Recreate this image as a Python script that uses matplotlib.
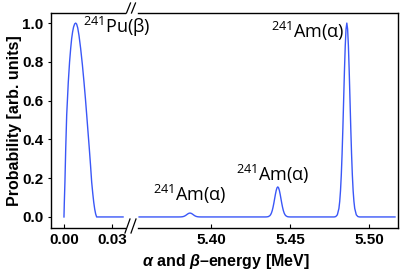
import numpy as np
import matplotlib
matplotlib.use("Agg")
import matplotlib.pyplot as plt
from matplotlib.lines import Line2D

# ---------------- data ----------------
# 241Pu beta spectrum (left panel), energy in MeV
pu_energy = [0.0, 0.0002, 0.0006, 0.0011, 0.0017, 0.0027, 0.0035, 0.0042, 0.0048,
             0.0054, 0.0060, 0.0067, 0.0073, 0.0079, 0.0086, 0.0094, 0.0104,
             0.0115, 0.0125, 0.0134, 0.0142, 0.0150, 0.0158, 0.0166, 0.0173,
             0.0180, 0.0186, 0.0192, 0.0198, 0.0204, 0.0369]
pu_prob = [0.0, 0.07, 0.18, 0.355, 0.526, 0.696, 0.80, 0.87, 0.92,
           0.955, 0.98, 0.996, 1.0, 0.995, 0.975, 0.935, 0.87,
           0.785, 0.696, 0.61, 0.526, 0.44, 0.355, 0.265, 0.18,
           0.12, 0.075, 0.04, 0.015, 0.0, 0.0]

# 241Am alpha lines (right panel)
am_centers = [5.3867, 5.4423, 5.4860]
am_heights = [0.02, 0.155, 1.0]
# common line shape of the alpha peaks: offset from centre [MeV] and relative height
shape_offset = [-0.0080, -0.0070, -0.0060, -0.0050, -0.0045, -0.0040, -0.0035, -0.0030,
                -0.0025, -0.0020, -0.0015, -0.0010, -0.0005, 0.0,
                0.0005, 0.0010, 0.0015, 0.0020, 0.0025, 0.0030, 0.0035, 0.0040,
                0.0045, 0.0050, 0.0060, 0.0070, 0.0080]
shape_rel = [0.0, 0.002, 0.011, 0.044, 0.08, 0.135, 0.216, 0.325,
             0.458, 0.607, 0.755, 0.882, 0.969, 1.0,
             0.969, 0.882, 0.755, 0.607, 0.458, 0.325, 0.216, 0.135,
             0.08, 0.044, 0.011, 0.002, 0.0]
am_range = [5.3545, 5.5165]

left_ticks = [0.00, 0.03]
left_ticklabels = ["0.00", "0.03"]
right_ticks = [5.40, 5.45, 5.50]
right_ticklabels = ["5.40", "5.45", "5.50"]
y_ticks = [0.0, 0.2, 0.4, 0.6, 0.8, 1.0]
y_ticklabels = ["0.0", "0.2", "0.4", "0.6", "0.8", "1.0"]

labels = [r"$^{\mathregular{241}}$Pu(β)", r"$^{\mathregular{241}}$Am(α)",
          r"$^{\mathregular{241}}$Am(α)", r"$^{\mathregular{241}}$Am(α)"]

# ---------------- build right-panel series ----------------
am_energy = [am_range[0]]
am_prob = [0.0]
for c, h in zip(am_centers, am_heights):
    for o, r in zip(shape_offset, shape_rel):
        am_energy.append(c + o)
        am_prob.append(h * r)
am_energy.append(am_range[1])
am_prob.append(0.0)

# ---------------- figure ----------------
plt.rcParams["mathtext.fontset"] = "custom"
plt.rcParams["mathtext.bfit"] = "Liberation Sans:italic:bold"

W, H = 407, 276
fig = plt.figure(figsize=(W / 100, H / 100), dpi=100)

ax_top_px, ax_bot_px = 13, 228
L0, L1 = 51, 124.5
R0, R1 = 138, 398
axL = fig.add_axes([L0 / W, 1 - ax_bot_px / H, (L1 - L0) / W, (ax_bot_px - ax_top_px) / H])
axR = fig.add_axes([R0 / W, 1 - ax_bot_px / H, (R1 - R0) / W, (ax_bot_px - ax_top_px) / H])
axR.patch.set_visible(False)
axL.set_zorder(3)
axL.patch.set_visible(False)

line_color = "#3a57f7"
axL.plot(pu_energy, pu_prob, color=line_color, lw=1.0)
axR.plot(am_energy, am_prob, color=line_color, lw=1.0)

ylim = (-0.057, 1.052)
axL.set_xlim(-0.0081, 0.0378)
axR.set_xlim(5.3538, 5.5184)
axL.set_ylim(*ylim)
axR.set_ylim(*ylim)

tick_font = dict(family="Liberation Sans", weight="bold", size=11)
axL.set_xticks(left_ticks)
axL.set_xticklabels(left_ticklabels, fontdict=tick_font)
axR.set_xticks(right_ticks)
axR.set_xticklabels(right_ticklabels, fontdict=tick_font)
axL.set_yticks(y_ticks)
axL.set_yticklabels(y_ticklabels, fontdict=tick_font)
axR.set_yticks([])

for ax in (axL, axR):
    ax.tick_params(axis="x", direction="in", length=3, width=0.8, pad=3.5)
    for s in ax.spines.values():
        s.set_linewidth(1.0)
axL.tick_params(axis="y", direction="out", length=2.5, width=0.8, pad=3.0)
axL.spines["right"].set_visible(False)
axR.spines["left"].set_visible(False)

# break marks "//"
def slash(ax, x0px, y0px, x1px, y1px, ref_x, ref_y):
    w = (L1 - L0)
    h = (ax_bot_px - ax_top_px)
    xs = [ref_x + x0px / w, ref_x + x1px / w]
    ys = [ref_y + y0px / h, ref_y + y1px / h]
    ax.add_line(Line2D(xs, ys, transform=ax.transAxes, color="black",
                       lw=0.9, clip_on=False))

for dx in (2.0, 7.0):
    slash(axL, dx, 0, dx + 4, 10, 1.0, 1.0)
for dx in (0.5, 6.5):
    slash(axL, dx, -5, dx + 5, 9, 1.0, 0.0)

# labels
axL.set_ylabel("Probability [arb. units]", fontsize=11.5, fontweight="bold",
               family="Liberation Sans")
axL.yaxis.set_label_coords(-0.395, 0.5)
fig.text(226 / W, 1 - 266 / H, r"$\mathbfit{\alpha}$ and $\mathbfit{\beta}$–energy [MeV]",
         ha="center", va="baseline", fontsize=11.5, fontweight="bold",
         family="Liberation Sans")

ann_font = dict(family="Open Sans", size=13)
axL.text(0.0119, 0.948, labels[0], ha="left", va="baseline", clip_on=False, **ann_font)
axR.text(5.3633, 0.084, labels[1], ha="left", va="baseline", **ann_font)
axR.text(5.4158, 0.187, labels[2], ha="left", va="baseline", **ann_font)
axR.text(5.4380, 0.921, labels[3], ha="left", va="baseline", **ann_font)

fig.savefig("out.png", dpi=100)
